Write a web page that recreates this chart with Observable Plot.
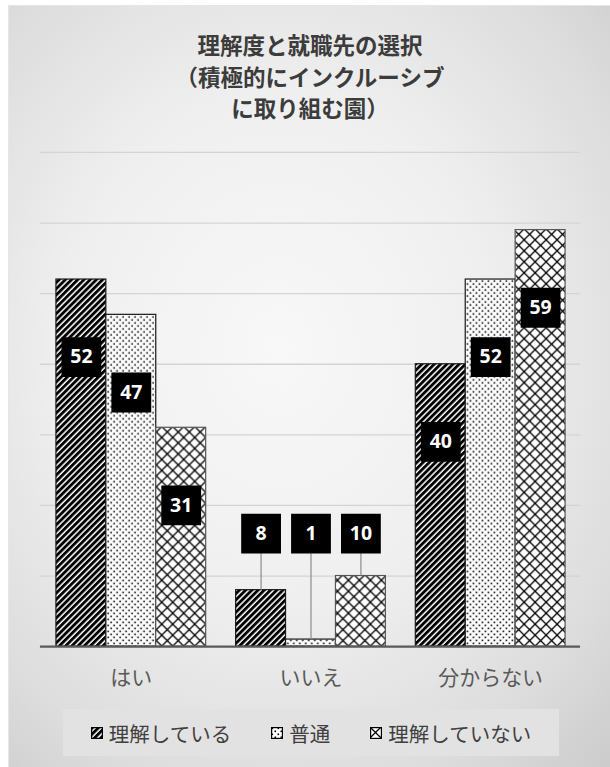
<!DOCTYPE html>
<html><head><meta charset="utf-8">
<script src="https://cdn.jsdelivr.net/npm/d3@7"></script>
<script src="https://cdn.jsdelivr.net/npm/@observablehq/plot@0.6"></script>
<style>
body{margin:0;background:#fff;width:610px;height:767px;overflow:hidden;font-family:"Noto Sans CJK JP","Noto Sans",sans-serif}
#panel{position:absolute;left:8px;top:5px;width:602px;height:762px;
 background:radial-gradient(ellipse 80% 75% at 45% 45%, #f8f8f8 0%, #efefef 45%, #dcdcdc 80%, #cccccc 100%);
 border-left:1px solid #e6e6e6;border-top:1px solid #e6e6e6;box-sizing:border-box}
#title{position:absolute;top:23px;left:0;width:602px;text-align:center;font-weight:bold;font-size:22.5px;line-height:31.5px;color:#3c3c3c}
#chart{position:absolute;left:-1px;top:124px}
#legend{position:absolute;left:54px;top:703px;width:496px;height:47px;background:#e2e2e2;display:flex;align-items:center;justify-content:center;gap:40px;font-size:20.5px;color:#404040}
#legend .item{display:flex;align-items:center;gap:6px}
#legend svg{display:block}
</style></head>
<body>
<div id="panel">
 <div id="title">理解度と就職先の選択<br>（積極的にインクルーシブ<br>に取り組む園）</div>
 <div id="chart"></div>
 <div id="legend"></div>
</div>
<script>
const categories = ["はい", "いいえ", "分からない"];
const seriesNames = ["理解している", "普通", "理解していない"];
const understand = [52, 8, 40];
const normal = [47, 1, 52];
const notUnderstand = [31, 10, 59];
const yTicks = [0, 10, 20, 30, 40, 50, 60, 70];

const seriesValues = [understand, normal, notUnderstand];
const tables = seriesValues.map((vals, s) =>
  categories.map((c, i) => ({category: c, series: seriesNames[s], value: vals[i]})));

const bandW = 150; // bandwidth in px (for inset layout)
const sub = bandW / 3;
const labelY = d => d.value >= 20 ? d.value - 11 : 16;

const marks = [
  Plot.ruleY(yTicks.filter(t => t > 0), {stroke: "#d4d4d4", strokeWidth: 1.3})
];
tables.forEach((rows, s) => {
  marks.push(Plot.barY(rows, {
    x: "category", y: "value", fill: `url(#pat${s})`,
    stroke: s === 2 ? "#555" : "#1a1a1a", strokeWidth: 1.2,
    insetLeft: s * sub, insetRight: (2 - s) * sub
  }));
});
marks.push(Plot.ruleY([0], {stroke: "#595959", strokeWidth: 2.2}));
tables.forEach((rows, s) => {
  const dx = (s - 1) * sub;
  marks.push(Plot.ruleX(rows.filter(d => d.value < 20), {
    x: "category", y1: labelY, y2: "value", dx, stroke: "#8c8c8c", strokeWidth: 1.2
  }));
  marks.push(Plot.dot(rows, {
    x: "category", y: labelY, dx, symbol: "square", r: 22.5, fill: "#000", stroke: "none"
  }));
  marks.push(Plot.text(rows, {
    x: "category", y: labelY, dx, text: d => String(d.value), fill: "#fff",
    fontSize: 19.5, fontWeight: "bold", fontFamily: "'Open Sans','Noto Sans',sans-serif"
  }));
});

const svg = Plot.plot({
  width: 603, height: 570,
  marginLeft: 32, marginRight: 30, marginTop: 22, marginBottom: 53,
  style: {background: "transparent", fontFamily: "'Noto Sans CJK JP',sans-serif", overflow: "visible"},
  x: {domain: categories, paddingInner: 0.168, paddingOuter: 0.084, label: null, tickSize: 0, tickPadding: 24, axis: "bottom"},
  y: {domain: [0, 70], axis: null},
  marks
});

d3.select(svg).insert("defs", ":first-child").html(`
  <pattern id="pat0" width="4.4" height="4.4" patternUnits="userSpaceOnUse" patternTransform="rotate(45)">
    <rect width="4.4" height="4.4" fill="#fff"/><rect width="2.9" height="4.4" fill="#000"/>
  </pattern>
  <pattern id="pat1" width="6" height="6" patternUnits="userSpaceOnUse">
    <rect width="6" height="6" fill="#fff"/><rect x="0.5" y="0.5" width="1.6" height="1.6" fill="#000"/><rect x="3.5" y="3.5" width="1.6" height="1.6" fill="#000"/>
  </pattern>
  <pattern id="pat2" width="11" height="11" patternUnits="userSpaceOnUse">
    <rect width="11" height="11" fill="#fff"/>
    <path d="M0,0L11,11M11,0L0,11" stroke="#000" stroke-width="1.3"/>
  </pattern>`);

d3.select(svg).selectAll("g[aria-label='x-axis tick label'], g[aria-label='x-axis']")
  .attr("font-size", 21).attr("fill", "#595959");
d3.select(svg).selectAll("g[aria-label='x-axis tick label'] text, g[aria-label='x-axis'] text")
  .attr("font-size", 21).attr("fill", "#595959");

document.getElementById("chart").appendChild(svg);

const legend = d3.select("#legend");
seriesNames.forEach((name, s) => {
  const it = legend.append("div").attr("class", "item");
  const sw = it.append("svg").attr("width", 12).attr("height", 12);
  sw.append("rect").attr("x", 0.5).attr("y", 0.5).attr("width", 11).attr("height", 11)
    .attr("fill", `url(#pat${s})`).attr("stroke", "#000").attr("stroke-width", 1.4);
  it.append("span").text(name);
});
</script>
</body></html>
